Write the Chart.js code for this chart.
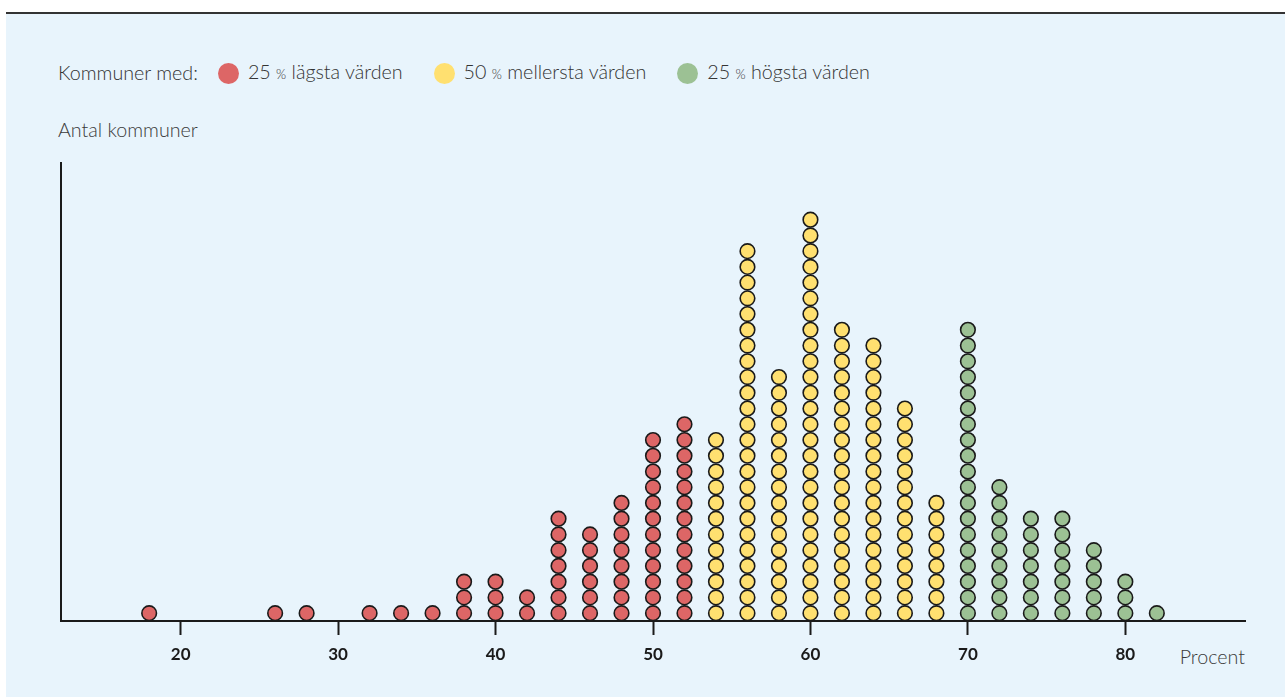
<!DOCTYPE html>
<html lang="sv">
<head>
<meta charset="UTF-8">
<title>Antal kommuner per procent</title>
<script src="https://cdn.jsdelivr.net/npm/chart.js"></script>
<style>
    body {
        margin: 0;
        padding: 0;
        width: 1285px;
        height: 697px;
        background: #ffffff;
        font-family: Lato, "Open Sans", sans-serif;
        overflow: hidden;
    }
    #panel {
        position: absolute;
        left: 6px;
        top: 12px;
        right: 0;
        bottom: 0;
        background: #e8f4fc;
        border-top: 2px solid #333333;
    }
    #legend {
        position: absolute;
        left: 58px;
        top: 60px;
        display: flex;
        align-items: center;
        font-size: 19.7px;
        font-weight: 300;
        color: #333333;
        white-space: pre;
        line-height: 24px;
    }
    #legend .item {
        display: flex;
        align-items: center;
        margin-left: 31px;
    }
    #legend .item.first {
        margin-left: 20px;
    }
    #legend .dot {
        width: 21px;
        height: 21px;
        border-radius: 50%;
        margin-right: 9px;
    }
    #legend small {
        font-size: 13px;
    }
    .note {
        position: absolute;
        font-size: 19.7px;
        font-weight: 300;
        color: #3a3a3a;
        white-space: nowrap;
        line-height: 24px;
    }
    #chartBox {
        position: absolute;
        left: 0;
        top: 0;
        width: 1285px;
        height: 697px;
    }
</style>
</head>
<body>
<div id="panel"></div>
<div id="legend"><span>Kommuner med:</span></div>
<div class="note" style="left:58px; top:118px;">Antal kommuner</div>
<div class="note" style="right:40px; top:645px;">Procent</div>
<div id="chartBox"><canvas id="dotChart" width="1285" height="697"></canvas></div>

<script>
    // procentvärden och antal kommuner per värde, i tre grupper
    const lowValues = [18, 26, 28, 32, 34, 36, 38, 40, 42, 44, 46, 48, 50, 52];
    const lowCounts = [1, 1, 1, 1, 1, 1, 3, 3, 2, 7, 6, 8, 12, 13];

    const midValues = [54, 56, 58, 60, 62, 64, 66, 68];
    const midCounts = [12, 24, 16, 26, 19, 18, 14, 8];

    const highValues = [70, 72, 74, 76, 78, 80, 82];
    const highCounts = [19, 9, 7, 7, 5, 3, 1];

    const xTickLabels = [20, 30, 40, 50, 60, 70, 80];

    const groupLabels = ["25 % lägsta värden", "50 % mellersta värden", "25 % högsta värden"];
    const groupColors = ["#dd6666", "#ffe070", "#9cc194"];

    // one point per kommun, stacked on top of each other
    function stackDots(values, counts) {
        const points = [];
        values.forEach((v, i) => {
            for (let k = 1; k <= counts[i]; k++) {
                points.push({ x: v, y: k - 0.5 });
            }
        });
        return points;
    }

    const groups = [
        stackDots(lowValues, lowCounts),
        stackDots(midValues, midCounts),
        stackDots(highValues, highCounts),
    ];

    const datasets = groups.map((points, i) => ({
        label: groupLabels[i],
        data: points,
        backgroundColor: groupColors[i],
        borderColor: "#1a1a1a",
        borderWidth: 1.6,
        pointRadius: 7.3,
        pointHoverRadius: 7.3,
    }));

    // legend in html so the small % sign can be kept
    const legend = document.getElementById("legend");
    groupLabels.forEach((label, i) => {
        const item = document.createElement("span");
        item.className = i === 0 ? "item first" : "item";
        item.innerHTML = `<span class="dot" style="background:${groupColors[i]}"></span>` +
            `<span>${label.replace(" % ", " <small>%</small> ")}</span>`;
        legend.appendChild(item);
    });

    const ctx = document.getElementById("dotChart").getContext("2d");
    new Chart(ctx, {
        type: "scatter",
        data: { datasets: datasets },
        options: {
            responsive: false,
            animation: false,
            layout: {
                padding: { left: 61, right: 40, top: 163, bottom: 0 },
            },
            plugins: {
                legend: { display: false },
                tooltip: { enabled: false },
            },
            scales: {
                x: {
                    type: "linear",
                    min: 12.4,
                    max: 87.6,
                    afterBuildTicks: (scale) => {
                        scale.ticks = xTickLabels.map(v => ({ value: v }));
                    },
                    afterFit: (scale) => {
                        scale.height = 76;
                    },
                    border: { display: true, color: "#1a1a1a", width: 2 },
                    grid: {
                        display: true,
                        drawOnChartArea: false,
                        drawTicks: true,
                        tickLength: 14,
                        tickWidth: 2,
                        tickColor: "#1a1a1a",
                    },
                    ticks: {
                        autoSkip: false,
                        maxRotation: 0,
                        padding: 9,
                        color: "#1a1a1a",
                        font: { family: "Lato, 'Open Sans', sans-serif", size: 17, weight: "bold" },
                    },
                },
                y: {
                    type: "linear",
                    min: 0,
                    max: 29.1,
                    afterFit: (scale) => {
                        scale.width = 0;
                    },
                    border: { display: true, color: "#1a1a1a", width: 2 },
                    grid: { display: false },
                    ticks: { display: false },
                },
            },
        },
    });
</script>
</body>
</html>
